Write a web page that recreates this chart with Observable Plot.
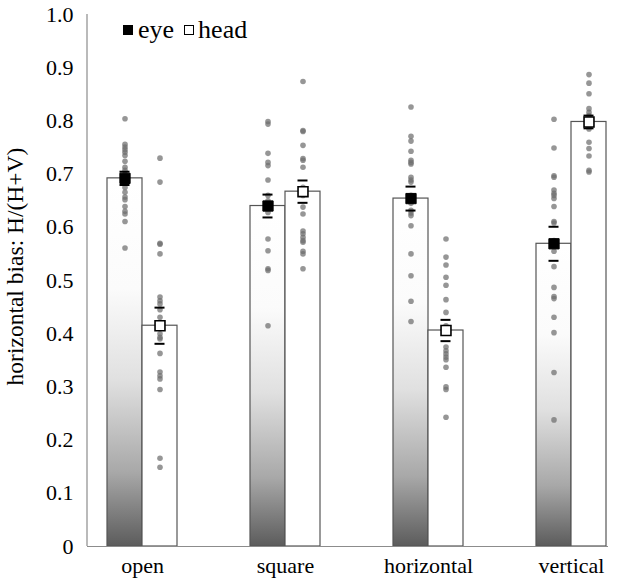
<!DOCTYPE html>
<html>
<head>
<meta charset="utf-8">
<script src="https://cdn.jsdelivr.net/npm/d3@7"></script>
<script src="https://cdn.jsdelivr.net/npm/@observablehq/plot@0.6"></script>
<style>
  html, body { margin: 0; padding: 0; background: #fff; }
  #wrap { position: relative; width: 626px; height: 580px; }
  #legend { position: absolute; left: 123px; top: 17px; font-family: "Liberation Serif", serif; font-size: 26px; line-height: 26px; display: flex; align-items: center; color: #000; white-space: nowrap; }
  #legend .sw { display: inline-block; box-sizing: border-box; width: 10px; height: 10px; }
</style>
</head>
<body>
<div id="wrap">
  <div id="legend"><span class="sw" style="background:#000;margin-right:5px"></span>eye<span class="sw" style="background:#fff;border:1px solid #000;margin:0 4px 0 10px"></span>head</div>
</div>
<script>
const categories = ["open", "square", "horizontal", "vertical"];
const yTicks = [0, 0.1, 0.2, 0.3, 0.4, 0.5, 0.6, 0.7, 0.8, 0.9, 1.0];
const yLabel = "horizontal bias: H/(H+V)";

const eyeMean = [0.692, 0.640, 0.654, 0.569];
const eyeSE   = [0.0125, 0.0215, 0.0225, 0.032];
const headMean = [0.415, 0.667, 0.406, 0.798];
const headSE   = [0.034, 0.021, 0.020, 0.012];

const openEye  = [0.804,0.756,0.751,0.746,0.741,0.735,0.724,0.713,0.707,0.700,0.695,0.688,0.675,0.666,0.657,0.652,0.639,0.630,0.625,0.611,0.561];
const openHead = [0.730,0.685,0.570,0.568,0.550,0.469,0.462,0.456,0.445,0.431,0.400,0.393,0.390,0.363,0.328,0.321,0.315,0.295,0.166,0.149];
const squareEye  = [0.799,0.794,0.739,0.722,0.716,0.689,0.660,0.650,0.638,0.628,0.578,0.556,0.522,0.519,0.415];
const squareHead = [0.874,0.782,0.780,0.754,0.729,0.726,0.713,0.675,0.660,0.638,0.625,0.593,0.588,0.581,0.575,0.572,0.555,0.550,0.522];
const horizEye  = [0.826,0.771,0.762,0.743,0.726,0.722,0.719,0.694,0.689,0.685,0.660,0.645,0.632,0.627,0.622,0.603,0.550,0.509,0.461,0.423];
const horizHead = [0.578,0.544,0.529,0.506,0.491,0.464,0.440,0.415,0.375,0.368,0.362,0.356,0.351,0.337,0.300,0.295,0.243];
const vertEye  = [0.803,0.749,0.697,0.694,0.670,0.664,0.660,0.654,0.639,0.611,0.608,0.575,0.555,0.526,0.487,0.470,0.466,0.431,0.402,0.327,0.238];
const vertHead = [0.887,0.871,0.851,0.823,0.816,0.810,0.800,0.790,0.785,0.760,0.748,0.734,0.707,0.704];

const eyePoints = [openEye, squareEye, horizEye, vertEye];
const headPoints = [openHead, squareHead, horizHead, vertHead];

const eyeSummary = categories.map((c, i) => ({category: c, mean: eyeMean[i], lo: eyeMean[i] - eyeSE[i], hi: eyeMean[i] + eyeSE[i]}));
const headSummary = categories.map((c, i) => ({category: c, mean: headMean[i], lo: headMean[i] - headSE[i], hi: headMean[i] + headSE[i]}));
const eyeDots = categories.flatMap((c, i) => eyePoints[i].map(v => ({category: c, value: v})));
const headDots = categories.flatMap((c, i) => headPoints[i].map(v => ({category: c, value: v})));

const half = 35;   // px: each band holds two bars, each half the band wide
const tickHalf = 5;

const defs = () => {
  const svg = d3.create("svg:defs");
  const g = svg.append("linearGradient").attr("id", "eyeGrad").attr("x1", 0).attr("y1", 0).attr("x2", 0).attr("y2", 1);
  [[0, "#ffffff"], [0.3, "#fbfbfb"], [0.55, "#e0e0e0"], [0.8, "#a8a8a8"], [1, "#5c5c5c"]]
    .forEach(([o, c]) => g.append("stop").attr("offset", o).attr("stop-color", c));
  return svg.node();
};

const leftAxisLine = (index, scales, values, dimensions) => {
  const x = dimensions.marginLeft;
  return d3.create("svg:line")
    .attr("x1", x).attr("x2", x)
    .attr("y1", scales.y(1)).attr("y2", scales.y(0))
    .attr("stroke", "#8c8c8c").attr("stroke-width", 1.2).node();
};

const chart = Plot.plot({
  width: 626,
  height: 580,
  marginLeft: 87,
  marginRight: 18,
  marginTop: 14,
  marginBottom: 34,
  style: {fontFamily: "'Liberation Serif', serif", fontSize: "22px", color: "#000", background: "#fff"},
  x: {domain: categories, paddingInner: 0.5139, paddingOuter: 0.066, align: 0.895, label: null, tickSize: 0, tickPadding: 11},
  y: {domain: [0, 1], ticks: yTicks, tickFormat: d => d === 0 ? "0" : d.toFixed(1), tickSize: 0, tickPadding: 14, label: null},
  marks: [
    defs,
    Plot.barY(eyeSummary, {x: "category", y: "mean", insetRight: half, fill: "url(#eyeGrad)", stroke: "#555", strokeWidth: 1.2}),
    Plot.barY(headSummary, {x: "category", y: "mean", insetLeft: half, fill: "#fff", stroke: "#555", strokeWidth: 1.2}),
    Plot.ruleY([0], {stroke: "#8c8c8c", strokeWidth: 1.2}),
    leftAxisLine,
    Plot.text([yLabel], {text: d => d, frameAnchor: "left", textAnchor: "middle", rotate: -90, dx: -72, dy: -14, fontSize: 23.5, fill: "#000"}),
    Plot.dot(eyeDots, {x: "category", y: "value", dx: -half / 2, r: 2.8, fill: "#6e6e6e", fillOpacity: 0.72, stroke: "none"}),
    Plot.dot(headDots, {x: "category", y: "value", dx: half / 2, r: 2.8, fill: "#6e6e6e", fillOpacity: 0.72, stroke: "none"}),
    Plot.tickY(eyeSummary, {x: "category", y: "lo", insetLeft: half / 2 - tickHalf, insetRight: 1.5 * half - tickHalf, stroke: "#000", strokeWidth: 2}),
    Plot.tickY(eyeSummary, {x: "category", y: "hi", insetLeft: half / 2 - tickHalf, insetRight: 1.5 * half - tickHalf, stroke: "#000", strokeWidth: 2}),
    Plot.tickY(headSummary, {x: "category", y: "lo", insetLeft: 1.5 * half - tickHalf, insetRight: half / 2 - tickHalf, stroke: "#000", strokeWidth: 2}),
    Plot.tickY(headSummary, {x: "category", y: "hi", insetLeft: 1.5 * half - tickHalf, insetRight: half / 2 - tickHalf, stroke: "#000", strokeWidth: 2}),
    Plot.dot(eyeSummary, {x: "category", y: "mean", dx: -half / 2, symbol: "square", r: 5.8, fill: "#000", stroke: "#000", strokeWidth: 1}),
    Plot.dot(headSummary, {x: "category", y: "mean", dx: half / 2, symbol: "square", r: 5.6, fill: "#fff", stroke: "#000", strokeWidth: 1.6})
  ]
});

document.getElementById("wrap").prepend(chart);
</script>
</body>
</html>
